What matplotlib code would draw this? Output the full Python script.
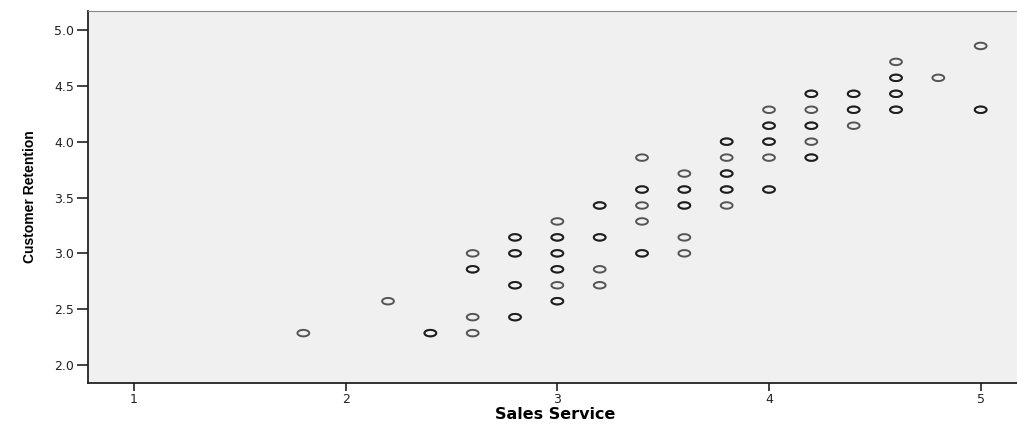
import numpy as np
import matplotlib
matplotlib.use("Agg")
import matplotlib.pyplot as plt
from matplotlib.path import Path

# Sales Service (x) vs Customer Retention (y); repeated pairs = overlapping cases
sales = [1.8, 2.2, 2.4, 2.4,
         2.6, 2.6, 2.6, 2.6, 2.6,
         2.8, 2.8, 2.8, 2.8, 2.8, 2.8, 2.8, 2.8,
         3.0, 3.0, 3.0, 3.0, 3.0, 3.0, 3.0, 3.0, 3.0, 3.0,
         3.2, 3.2, 3.2, 3.2, 3.2, 3.2,
         3.4, 3.4, 3.4, 3.4, 3.4, 3.4, 3.4,
         3.6, 3.6, 3.6, 3.6, 3.6, 3.6, 3.6,
         3.8, 3.8, 3.8, 3.8, 3.8, 3.8, 3.8, 3.8,
         4.0, 4.0, 4.0, 4.0, 4.0, 4.0, 4.0, 4.0,
         4.2, 4.2, 4.2, 4.2, 4.2, 4.2, 4.2, 4.2,
         4.4, 4.4, 4.4, 4.4, 4.4,
         4.6, 4.6, 4.6, 4.6, 4.6, 4.6, 4.6,
         4.8, 5.0, 5.0, 5.0]
retention_sevenths = [16, 18, 16, 16,
                      21, 20, 20, 17, 16,
                      22, 22, 21, 21, 19, 19, 17, 17,
                      23, 22, 22, 21, 21, 20, 20, 19, 18, 18,
                      24, 24, 22, 22, 20, 19,
                      27, 25, 25, 24, 23, 21, 21,
                      26, 25, 25, 24, 24, 22, 21,
                      28, 28, 27, 26, 26, 25, 25, 24,
                      30, 29, 29, 28, 28, 27, 25, 25,
                      31, 31, 30, 29, 29, 28, 27, 27,
                      31, 31, 30, 30, 29,
                      33, 32, 32, 31, 31, 30, 30,
                      32, 34, 30, 30]
retention = np.array(retention_sevenths) / 7.0

# flattened ellipse marker like the SPSS output
t = np.linspace(0, 2 * np.pi, 60)
ellipse = Path(np.column_stack([np.cos(t), 0.55 * np.sin(t)]), closed=True)

fig = plt.figure(figsize=(10.17, 4.24), dpi=100)
ax = fig.add_axes([88 / 1017, 1 - 383 / 424, 935 / 1017, 372 / 424])
ax.set_facecolor("#f0f0f0")

ax.scatter(sales, retention, marker=ellipse, s=72, facecolors="none",
           edgecolors="black", linewidths=1.4, alpha=0.65)

ax.set_xlim(0.7825, 5.2)
ax.set_ylim(1.839, 5.17)
ax.set_xticks([1, 2, 3, 4, 5])
ax.set_yticks([2.0, 2.5, 3.0, 3.5, 4.0, 4.5, 5.0])
ax.set_yticklabels(["2.0", "2.5", "3.0", "3.5", "4.0", "4.5", "5.0"])
ax.tick_params(axis="both", direction="out", labelsize=9, width=1.2,
               color="#222222", labelcolor="#222222")
ax.tick_params(axis="y", length=8, pad=2)
ax.tick_params(axis="x", length=6, pad=1)

for side in ["left", "bottom"]:
    ax.spines[side].set_linewidth(1.3)
    ax.spines[side].set_color("#222222")
ax.spines["top"].set_color("#888888")
ax.spines["right"].set_visible(False)

ax.set_xlabel("Sales Service", fontsize=11.5, fontweight="bold", labelpad=1)
ax.set_ylabel("Customer Retention", fontsize=10, fontweight="bold",
              family=["Liberation Sans Narrow", "Liberation Sans", "DejaVu Sans"],
              labelpad=12)

fig.savefig("out.png", dpi=100, facecolor="white")
